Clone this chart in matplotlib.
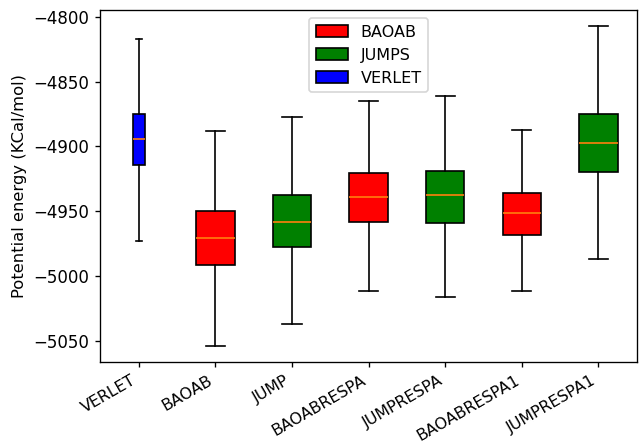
import matplotlib
matplotlib.use("Agg")
import matplotlib.pyplot as plt
import matplotlib.patches as mpatches

# summary stats
labels = ['VERLET', 'BAOAB', 'JUMP', 'BAOABRESPA', 'JUMPRESPA', 'BAOABRESPA1', 'JUMPRESPA1']
whislo = [-4972.7, -5053.6, -5037.0, -5011.7, -5016.3, -5011.5, -4986.5]
q1 = [-4914.3, -4991.6, -4977.8, -4957.9, -4958.7, -4968.3, -4919.9]
med = [-4894.4, -4970.4, -4958.1, -4939.3, -4937.3, -4951.3, -4897.5]
q3 = [-4875.0, -4950.0, -4937.7, -4920.7, -4918.9, -4936.0, -4875.0]
whishi = [-4817.1, -4888.3, -4877.6, -4864.8, -4861.0, -4887.2, -4807.4]
colors = ['blue', 'red', 'green', 'red', 'green', 'red', 'green']
widths = [0.15, 0.5, 0.5, 0.5, 0.5, 0.5, 0.5]

stats = []
for i in range(len(labels)):
    stats.append(dict(label=labels[i], whislo=whislo[i], q1=q1[i], med=med[i],
                      q3=q3[i], whishi=whishi[i], fliers=[]))

# dpi 120 -> everything ~1.2x bigger, like the original
fig, ax = plt.subplots(figsize=(640 / 120, 444 / 120), dpi=120)
bp = ax.bxp(stats, widths=widths, patch_artist=True, showfliers=False)
for box, c in zip(bp['boxes'], colors):
    box.set_facecolor(c)
    box.set_edgecolor('black')

ax.set_ylabel('Potential energy (KCal/mol)', fontsize=9.8)
ax.tick_params(axis='y', labelsize=10)
ax.tick_params(axis='x', labelsize=9.5)
ax.tick_params(length=3.2)
plt.setp(ax.get_xticklabels(), rotation=30, ha='right')

handles = [mpatches.Patch(facecolor='red', edgecolor='black', label='BAOAB'),
           mpatches.Patch(facecolor='green', edgecolor='black', label='JUMPS'),
           mpatches.Patch(facecolor='blue', edgecolor='black', label='VERLET')]
ax.legend(handles=handles, loc='upper center', fontsize=9.6)

fig.subplots_adjust(left=0.157, right=0.995, top=0.977, bottom=0.185)
fig.savefig('out.png', dpi=120)
